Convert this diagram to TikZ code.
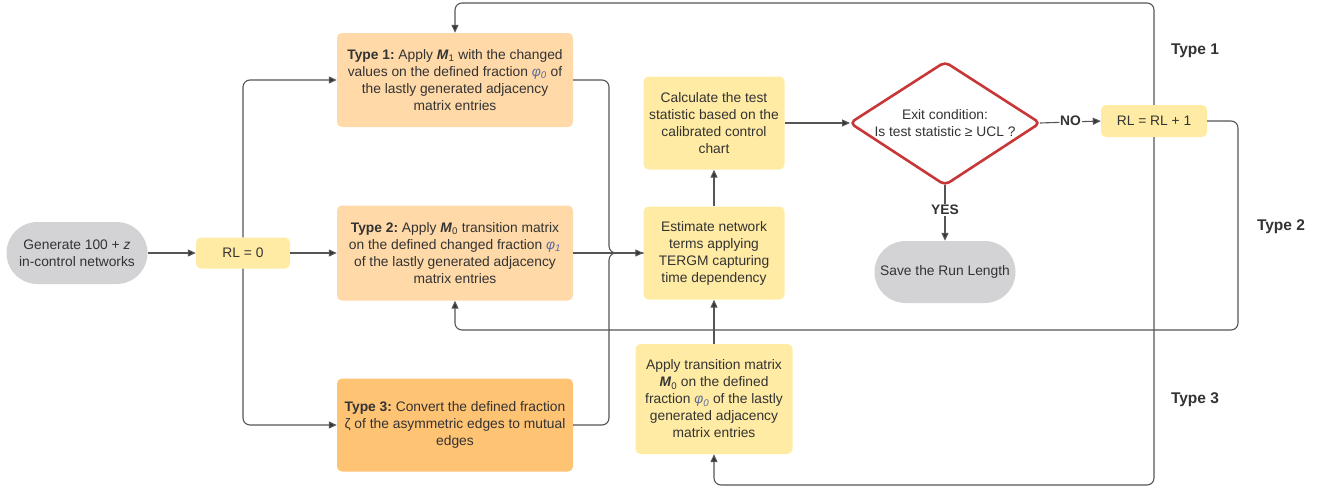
\documentclass[tikz,border=0pt]{standalone}
\usepackage{fontspec}
\setmainfont{Liberation Sans}
\usetikzlibrary{arrows.meta,positioning}
\definecolor{txt}{HTML}{333333}
\definecolor{ln}{HTML}{555555}
\definecolor{org}{HTML}{FFD9A8}
\definecolor{orgd}{HTML}{FFC374}
\definecolor{yel}{HTML}{FFEBA3}
\definecolor{gry}{HTML}{D3D3D6}
\definecolor{redc}{HTML}{C83737}
\definecolor{phic}{HTML}{5B6A9E}
\newcommand{\phz}{\textcolor{phic}{\textit{φ}\textsubscript{\textit{0}}}}
\newcommand{\pho}{\textcolor{phic}{\textit{φ}\textsubscript{\textit{1}}}}
\begin{document}
\begin{tikzpicture}[x=1pt,y=-1pt,
  every node/.style={text=txt,font=\fontsize{13.8}{17}\selectfont,align=center,inner sep=0pt},
  box/.style={rounded corners=5pt,anchor=center},
  conn/.style={draw=ln,line width=1.1pt,rounded corners=7pt},
  arr/.style={conn,-{Triangle[length=8pt,width=7pt,fill=txt]}},
  lbl/.style={font=\bfseries\fontsize{13.8}{17}\selectfont,fill=white,inner sep=1pt},
  typelbl/.style={font=\bfseries\fontsize{15.5}{18}\selectfont}]
\useasboundingbox (0,0) rectangle (1338,490);
% nodes
\node[box,fill=gry,rounded corners=31pt,minimum width=141pt,minimum height=62pt] (gen) at (77,253) {Generate 100 + \textit{z}\\in-control networks};
\node[box,fill=yel,minimum width=94pt,minimum height=31pt] (rl0) at (243,253) {RL = 0};
\node[box,fill=org,minimum width=236pt,minimum height=94pt] (t1) at (455,80) {\textbf{Type 1:}~Apply \textbf{\textit{M}}\textsubscript{1} with the changed\\values on the defined fraction \phz\ of\\the lastly generated adjacency\\matrix entries};
\node[box,fill=org,minimum width=236pt,minimum height=95pt] (t2) at (455,253) {\textbf{Type 2:}~Apply \textbf{\textit{M}}\textsubscript{0} transition matrix\\on the defined changed fraction \pho\\of the lastly generated adjacency\\matrix entries};
\node[box,fill=orgd,minimum width=236pt,minimum height=93pt] (t3) at (455,425) {\textbf{Type 3:}~Convert the defined fraction\\ζ of the asymmetric edges to mutual\\edges};
\node[box,fill=yel,minimum width=141pt,minimum height=93pt] (calc) at (714,123) {Calculate the test\\statistic based on the\\calibrated control\\chart};
\node[box,fill=yel,minimum width=141pt,minimum height=93pt] (est) at (714,253) {Estimate network\\terms applying\\TERGM capturing\\time dependency};
\node[box,fill=yel,minimum width=157pt,minimum height=110pt] (app) at (714,399) {Apply transition matrix\\\textbf{\textit{M}}\textsubscript{0} on the defined\\fraction \phz\ of the lastly\\generated adjacency\\matrix entries};
\draw[redc,line width=2.6pt,fill=white,rounded corners=5pt,line join=round] (850,123) -- (945,62) -- (1040,123) -- (945,185) -- cycle;
\coordinate (dl) at (850,123);
\coordinate (dr) at (1040,123);
\coordinate (db) at (945,185);
\node (dia) at (945,123) {Exit condition:\\Is test statistic ≥ UCL ?};
\node[box,fill=gry,rounded corners=31pt,minimum width=141pt,minimum height=62pt] (save) at (945,272) {Save the Run Length};
\node[box,fill=yel,minimum width=106pt,minimum height=32pt] (rl1) at (1154,121) {RL = RL + 1};
\node[typelbl] (ty1) at (1195,51) {Type 1};
\node[typelbl] (ty2) at (1281,227) {Type 2};
\node[typelbl] (ty3) at (1195,400) {Type 3};
% connectors
\draw[arr] (gen.east) -- (rl0.west);
\draw[arr] (rl0.north) |- (t1.west);
\draw[arr] (rl0.east) -- (t2.west);
\draw[arr] (rl0.south) |- (t3.west);
\draw[conn] (t1.east) -- (609,80) -- (609,253) -- (est.west);
\draw[conn] (t3.east) -- (609,425) -- (609,253) -- (est.west);
\draw[arr] (t2.east) -- (est.west);
\draw[arr] (est.north) -- (calc.south);
\draw[arr] (app.north) -- (est.south);
\draw[arr] (calc.east) -- (dl);
\draw[arr] (dr) -- (rl1.west) node[lbl,midway,yshift=1pt] {NO};
\draw[arr] (db) -- (save.north) node[lbl,pos=0.45] {YES};
\draw[arr] (rl1.north) -- (1154,3) -- (455,3) -- (t1.north);
\draw[arr] (rl1.east) -- (1238,121) -- (1238,330) -- (455,330) -- (t2.south);
\draw[arr] (rl1.south) -- (1154,485) -- (714,485) -- (app.south);
\end{tikzpicture}
\end{document}
